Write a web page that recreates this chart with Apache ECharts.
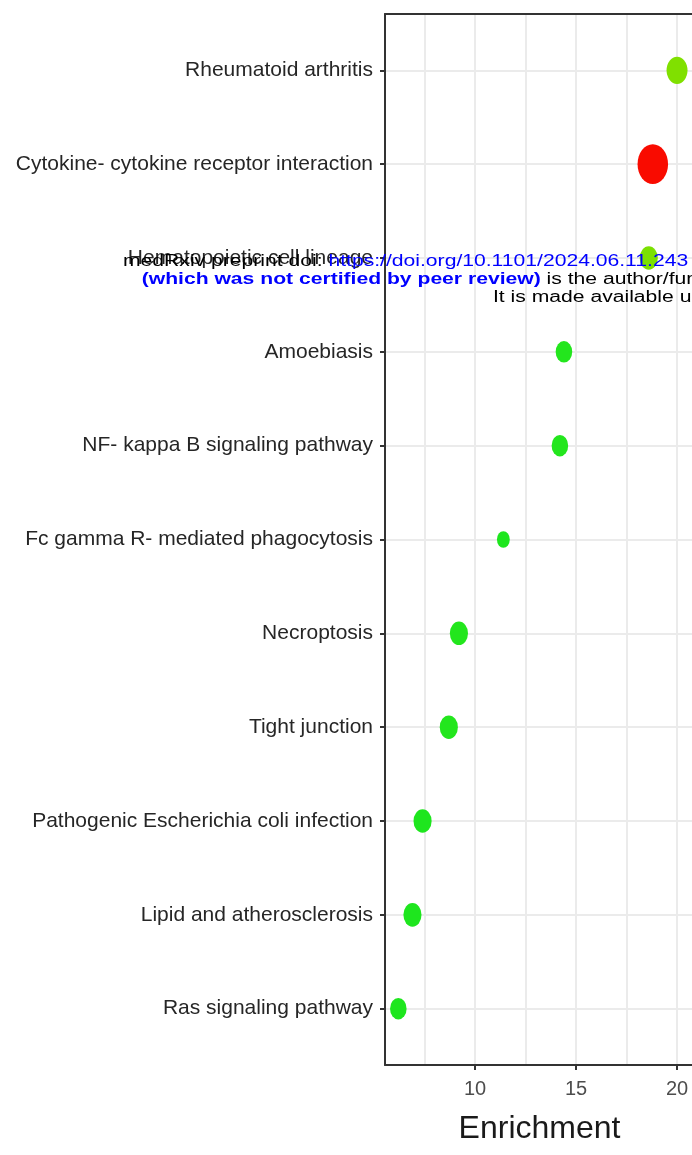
<!DOCTYPE html>
<html><head><meta charset="utf-8">
<script src="https://cdn.jsdelivr.net/npm/echarts@6/dist/echarts.min.js"></script>
<style>html,body{margin:0;padding:0;background:#fff}#c{width:692px;height:1155px}</style>
</head><body><div id="c"></div>
<script>
// ---- data ----
const categories = [
  'Rheumatoid arthritis',
  'Cytokine- cytokine receptor interaction',
  'Hematopoietic cell lineage',
  'Amoebiasis',
  'NF- kappa B signaling pathway',
  'Fc gamma R- mediated phagocytosis',
  'Necroptosis',
  'Tight junction',
  'Pathogenic Escherichia coli infection',
  'Lipid and atherosclerosis',
  'Ras signaling pathway'
];
const enrichment = [20.0, 18.8, 18.6, 14.4, 14.2, 11.4, 9.2, 8.7, 7.4, 6.9, 6.2];
const geneCount  = [8, 17, 6, 5, 5, 3, 6, 6, 6, 6, 5];
const pAdjust    = [0.020, 0.001, 0.021, 0.039, 0.039, 0.040, 0.039, 0.039, 0.040, 0.040, 0.040];
const xTickValues = [10, 15, 20];
const xGridValues = [7.5, 10, 12.5, 15, 17.5, 20];
const yPositions = categories.map((_, i) => i + 1);

const points = categories.map((c, i) => [enrichment[i], i + 1, geneCount[i], pAdjust[i], c]);

const FONT = '"Liberation Sans", Arial, Helvetica, sans-serif';
const chart = echarts.init(document.getElementById('c'), null, {renderer: 'canvas'});

const option = {
  animation: false,
  backgroundColor: '#ffffff',
  grid: {left: 385, top: 14, right: -2, bottom: 90, containLabel: false, outerBoundsMode: 'none'},
  xAxis: [{
    type: 'value', min: 5.54, max: 20.84, position: 'bottom', z: 10,
    axisLine: {show: true, onZero: false, lineStyle: {color: '#333', width: 2}},
    axisTick: {show: true, customValues: xTickValues, length: 5, lineStyle: {color: '#333', width: 2}},
    axisLabel: {show: true, customValues: xTickValues, margin: 14, fontSize: 20, color: '#4d4d4d', fontFamily: FONT},
    splitLine: {show: false},
    name: 'Enrichment', nameLocation: 'middle', nameGap: 48,
    nameTextStyle: {fontSize: 32, color: '#1a1a1a', fontFamily: FONT}
  }, {
    type: 'value', min: 5.54, max: 20.84, position: 'top', z: 10,
    axisLine: {show: true, onZero: false, lineStyle: {color: '#333', width: 2}},
    axisTick: {show: false}, axisLabel: {show: false}, splitLine: {show: false}
  }],
  yAxis: {
    type: 'value', inverse: true, min: 0.4, max: 11.6, z: 10,
    axisLine: {show: true, onZero: false, lineStyle: {color: '#333', width: 2}},
    axisTick: {show: true, customValues: yPositions, length: 5, lineStyle: {color: '#333', width: 2}},
    axisLabel: {show: true, customValues: yPositions, margin: 12, fontSize: 21, color: '#262626', fontFamily: FONT,
      formatter: v => categories[Math.round(v) - 1] || ''},
    splitLine: {show: false}
  },
  visualMap: {
    show: false, type: 'continuous', dimension: 3, seriesIndex: 1, min: 0, max: 0.04,
    inRange: {color: ['#ff0000', '#80e000', '#1ee61e']}
  },
  series: [{
    type: 'scatter', data: [], z: 1, silent: true,
    markLine: {
      z: 1, silent: true, symbol: 'none', label: {show: false}, animation: false,
      lineStyle: {color: '#ebebeb', width: 2, type: 'solid'},
      emphasis: {disabled: true},
      data: xGridValues.map(v => ({xAxis: v})).concat(yPositions.map(v => ({yAxis: v})))
    }
  }, {
    type: 'scatter', z: 6, data: points,
    symbolSize: d => { const w = 7.4 * Math.sqrt(d[2]); return [w, w * 1.3]; },
    itemStyle: {opacity: 1}
  }],
  graphic: [{
    type: 'text', x: 123, y: 262, scaleX: 1.32, z: 100, silent: true,
    style: {
      text: '{k|medRxiv preprint doi: }{b|https://doi.org/10.1101/2024.06.11.243}',
      verticalAlign: 'middle',
      rich: {
        k: {fill: '#000', fontSize: 16, fontFamily: FONT},
        b: {fill: '#0000ff', fontSize: 16, fontFamily: FONT}
      }
    }
  }, {
    type: 'text', x: 141.7, y: 280, scaleX: 1.32, z: 100, silent: true,
    style: {
      text: '{bb|(which was not certified by peer review)}{k| is the author/funder, who has granted medRxiv a license to display the preprint in perpetuity.}',
      verticalAlign: 'middle',
      rich: {
        bb: {fill: '#0000ff', fontSize: 16, fontWeight: 'bold', fontFamily: FONT},
        k: {fill: '#000', fontSize: 16, fontFamily: FONT}
      }
    }
  }, {
    type: 'text', x: 493, y: 298, scaleX: 1.32, z: 100, silent: true,
    style: {
      text: 'It is made available under a CC-BY-NC-ND 4.0 International license .',
      verticalAlign: 'middle', fill: '#000', fontSize: 16, fontFamily: FONT
    }
  }]
};
chart.setOption(option);
</script></body></html>
